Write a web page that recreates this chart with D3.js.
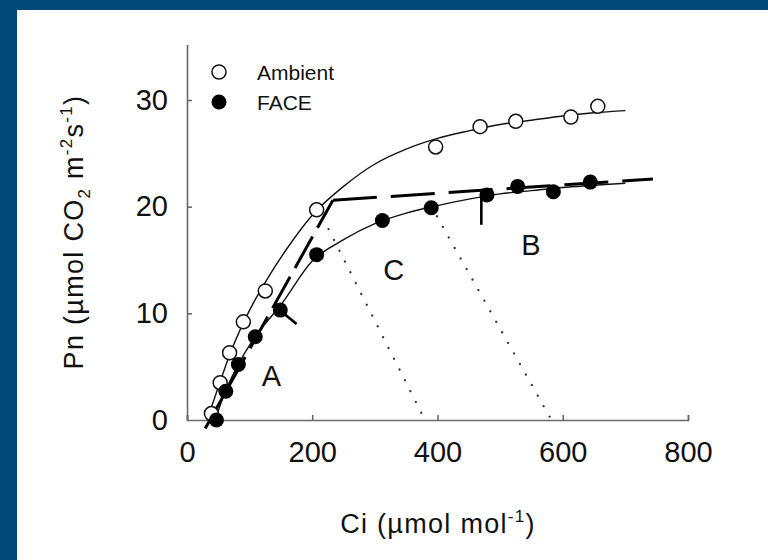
<!DOCTYPE html>
<html>
<head>
<meta charset="utf-8">
<script src="https://cdn.jsdelivr.net/npm/d3@7"></script>
<style>
  body { margin: 0; background: #fff; }
  svg { display: block; font-family: 'Liberation Sans', Arial, sans-serif; }
</style>
</head>
<body>
<script>
// measured points
const ambCi = [39, 53, 68, 90, 125, 207, 397, 468, 525, 613, 656];
const ambPn = [0.6, 3.5, 6.3, 9.2, 12.1, 19.7, 25.6, 27.5, 28.0, 28.4, 29.4];
const faceCi = [47, 62, 82, 109, 149, 207, 312, 390, 479, 528, 585, 644];
const facePn = [0, 2.7, 5.2, 7.8, 10.3, 15.5, 18.7, 19.9, 21.1, 21.9, 21.4, 22.3];

// fitted curves
const ambFitCi = [32, 50, 70, 100, 130, 160, 200, 250, 300, 350, 400, 450, 500, 550, 600, 650, 700];
const ambFitPn = [0, 3.1, 6.4, 10.3, 13.4, 16.1, 19.2, 21.9, 24.0, 25.4, 26.4, 27.1, 27.7, 28.1, 28.5, 28.8, 29.0];
const faceFitCi = [45, 60, 80, 110, 150, 200, 250, 300, 350, 400, 450, 500, 550, 600, 650, 700];
const faceFitPn = [0, 2.5, 5.0, 7.9, 10.8, 14.9, 16.9, 18.4, 19.4, 20.1, 20.7, 21.2, 21.5, 21.8, 22.0, 22.2];

// limitation lines and markers
const limitA = [[29, -0.8], [233, 20.6]];
const limitB = [[233, 20.6], [744, 22.6]];
const dotC = [[226, 17.9], [380, 0]];
const dotB = [[399, 19.1], [582, 0]];
const markA = [[148, 10.3], [175, 9.0]];
const markB = [[470, 21.2], [470, 18.3]];
const regionLabels = ['A', 'C', 'B'];
const regionCi = [135, 330, 549];
const regionPn = [4.2, 14.1, 16.4];

const xTicks = [0, 200, 400, 600, 800];
const yTicks = [0, 10, 20, 30];

const [svgWidth, svgHeight] = [768, 560];
const svg = d3.select('body')
  .append('svg')
  .attr('width', svgWidth)
  .attr('height', svgHeight);

// blue frame
svg.append('rect').attr('x', 0).attr('y', 0).attr('width', 17).attr('height', svgHeight).attr('fill', '#004a7a');
svg.append('rect').attr('x', 0).attr('y', 0).attr('width', svgWidth).attr('height', 10).attr('fill', '#004a7a');

const x = d3.scaleLinear().domain([0, 800]).range([187, 688]);
const y = d3.scaleLinear().domain([0, 35.2]).range([420, 44.5]);

const axisColor = '#6a6a6a';
const xAxis = svg.append('g')
  .attr('transform', `translate(0, ${y(0)})`)
  .call(d3.axisBottom(x).tickValues(xTicks).tickSizeInner(-5).tickSizeOuter(-5).tickPadding(21));
const yAxis = svg.append('g')
  .attr('transform', `translate(${x(0)}, 0)`)
  .call(d3.axisLeft(y).tickValues(yTicks).tickSizeInner(-5).tickSizeOuter(0).tickPadding(19));
[xAxis, yAxis].forEach(g => {
  g.selectAll('path, line').attr('stroke', axisColor).attr('stroke-width', 1.6);
  g.selectAll('text').attr('font-size', 29).attr('font-family', null).attr('fill', '#111');
});
yAxis.selectAll('.tick').filter(d => d === 0).select('line').remove();

const line = d3.line().x(d => x(d[0])).y(d => y(d[1]));
const curve = d3.line().x(d => x(d[0])).y(d => y(d[1])).curve(d3.curveMonotoneX);

// fitted curves
svg.append('path')
  .attr('d', curve(d3.zip(ambFitCi, ambFitPn)))
  .attr('fill', 'none').attr('stroke', '#111').attr('stroke-width', 1.4);
svg.append('path')
  .attr('d', curve(d3.zip(faceFitCi, faceFitPn)))
  .attr('fill', 'none').attr('stroke', '#111').attr('stroke-width', 1.4);

// dotted lines
[dotC, dotB].forEach(seg => {
  svg.append('path')
    .attr('d', line(seg))
    .attr('fill', 'none').attr('stroke', '#333').attr('stroke-width', 2.2)
    .attr('stroke-linecap', 'round').attr('stroke-dasharray', '0.1,12');
});

// dashed limitation lines
svg.append('path')
  .attr('d', line(limitA))
  .attr('fill', 'none').attr('stroke', '#000').attr('stroke-width', 3)
  .attr('stroke-dasharray', '36,10');
svg.append('path')
  .attr('d', line(limitB))
  .attr('fill', 'none').attr('stroke', '#000').attr('stroke-width', 3)
  .attr('stroke-dasharray', '44,14');
[markA, markB].forEach(seg => {
  svg.append('path')
    .attr('d', line(seg))
    .attr('fill', 'none').attr('stroke', '#000').attr('stroke-width', 2.6);
});

// points
svg.selectAll('circle.amb')
  .data(d3.zip(ambCi, ambPn))
  .enter()
  .append('circle')
  .classed('amb', true)
  .attr('cx', d => x(d[0])).attr('cy', d => y(d[1]))
  .attr('r', 7).attr('fill', '#fff').attr('stroke', '#111').attr('stroke-width', 1.5);
svg.selectAll('circle.face')
  .data(d3.zip(faceCi, facePn))
  .enter()
  .append('circle')
  .classed('face', true)
  .attr('cx', d => x(d[0])).attr('cy', d => y(d[1]))
  .attr('r', 7.5).attr('fill', '#000');

// region labels
svg.selectAll('text.region')
  .data(regionLabels)
  .enter()
  .append('text')
  .classed('region', true)
  .attr('x', (d, i) => x(regionCi[i]))
  .attr('y', (d, i) => y(regionPn[i]))
  .attr('dy', '0.36em')
  .attr('text-anchor', 'middle')
  .attr('font-size', 29)
  .attr('fill', '#111')
  .text(d => d);

// legend
const legend = svg.append('g').attr('transform', 'translate(219, 72)');
legend.append('circle').attr('r', 7).attr('fill', '#fff').attr('stroke', '#111').attr('stroke-width', 1.5);
legend.append('circle').attr('cy', 30).attr('r', 7.5).attr('fill', '#000');
legend.append('text').attr('x', 38).attr('dy', '0.36em').attr('font-size', 21).attr('fill', '#111').text('Ambient');
legend.append('text').attr('x', 38).attr('y', 30).attr('dy', '0.36em').attr('font-size', 21).attr('fill', '#111').text('FACE');

// axis titles
const xTitle = svg.append('text')
  .attr('x', 438).attr('y', 533)
  .attr('text-anchor', 'middle')
  .attr('font-size', 27)
  .attr('letter-spacing', 1.3)
  .attr('fill', '#111');
xTitle.append('tspan').text('Ci (µmol mol');
xTitle.append('tspan').attr('font-size', 17).attr('dy', -11).text('-1');
xTitle.append('tspan').attr('dy', 11).text(')');

const yTitle = svg.append('text')
  .attr('transform', 'translate(83, 232) rotate(-90)')
  .attr('text-anchor', 'middle')
  .attr('font-size', 27)
  .attr('letter-spacing', 1.3)
  .attr('fill', '#111');
yTitle.append('tspan').text('Pn (µmol CO');
yTitle.append('tspan').attr('font-size', 17).attr('dy', 7).text('2');
yTitle.append('tspan').attr('dy', -7).text(' m');
yTitle.append('tspan').attr('font-size', 17).attr('dy', -11).text('-2');
yTitle.append('tspan').attr('dy', 11).text('s');
yTitle.append('tspan').attr('font-size', 17).attr('dy', -11).text('-1');
yTitle.append('tspan').attr('dy', 11).text(')');
</script>
</body>
</html>
